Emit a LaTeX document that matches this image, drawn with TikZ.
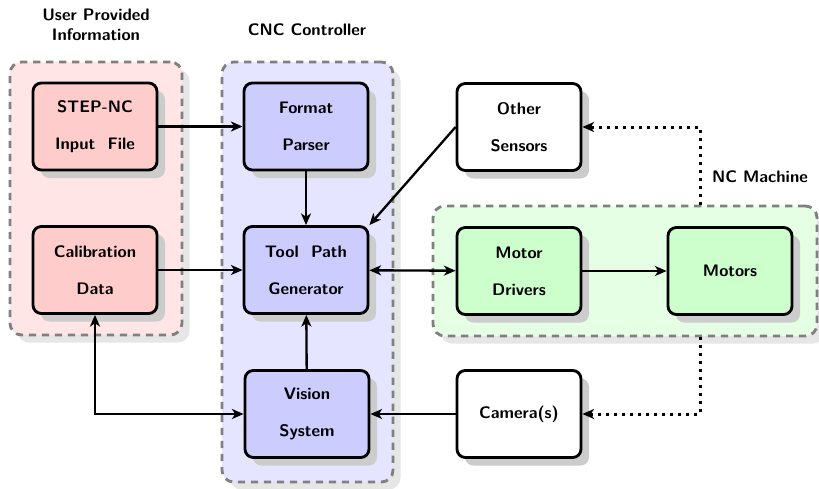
\documentclass[tikz,border=0pt]{standalone}
\usepackage{fontspec}
\usetikzlibrary{arrows.meta,shadows,positioning}

\definecolor{boxshadow}{HTML}{CCCCCC}
\definecolor{grpshadow}{HTML}{E6E6E6}
\definecolor{grpborder}{HTML}{808080}

\tikzset{
  every node/.style={font=\sffamily\bfseries},
  block/.style={draw=black, line width=1.7pt, rounded corners=5pt,
    minimum width=74.4pt, minimum height=52.2pt, align=center, inner sep=2pt,
    drop shadow={shadow xshift=4.8pt, shadow yshift=-4.8pt, fill=boxshadow, opacity=1}},
  userbox/.style={block, fill=red!20},
  cncbox/.style={block, fill=blue!20},
  ncbox/.style={block, fill=green!20},
  plainbox/.style={block, fill=white},
  group/.style={draw=grpborder, line width=1.7pt, dash pattern=on 4.4pt off 3.4pt,
    rounded corners=7pt, inner sep=0pt,
    drop shadow={shadow xshift=4.5pt, shadow yshift=-4.5pt, fill=grpshadow, opacity=1}},
  flow/.style={line width=1.4pt, -{Stealth[length=7pt,width=6pt,inset=2pt]}},
  twoway/.style={line width=1.4pt, {Stealth[length=7pt,width=6pt,inset=2pt]}-{Stealth[length=7pt,width=6pt,inset=2pt]}},
  sense/.style={line width=1.8pt, dash pattern=on 1.8pt off 3pt,
    -{Stealth[length=7pt,width=6pt,inset=2pt]}},
  heading/.style={align=center}
}

\begin{document}
\begin{tikzpicture}[x=0.6pt, y=-0.6pt]
  \useasboundingbox (0,0) rectangle (819,488);

  % group panels
  \node[group, fill=red!10, minimum width=103.2pt, minimum height=163.8pt] (upi) at (96,198.5) {};
  \node[group, fill=blue!10, minimum width=102.6pt, minimum height=252pt] (cnc) at (307.5,272) {};
  \node[group, fill=green!10, minimum width=230.4pt, minimum height=78pt] (ncm) at (625,271) {};

  % group titles
  \node[heading] (upiT) at (96,25) {User Provided\\Information};
  \node[heading] (cncT) at (307,30) {CNC Controller};
  \node[heading] (ncmT) at (760,177) {NC Machine};

  % user side
  \node[userbox] (step) at (95,126.5) {STEP-NC\\[10pt]Input~~File};
  \node[userbox] (cal) at (95,270) {Calibration\\[10pt]Data};

  % controller
  \node[cncbox] (fp) at (306,126.5) {Format\\[10pt]Parser};
  \node[cncbox] (tpg) at (306,270) {Tool~~Path\\[10pt]Generator};
  \node[cncbox] (vs) at (307,414) {Vision\\[10pt]System};

  % machine side
  \node[plainbox] (os) at (519,127) {Other\\[10pt]Sensors};
  \node[ncbox] (md) at (519,271) {Motor\\[10pt]Drivers};
  \node[ncbox] (mot) at (730,271) {Motors};
  \node[plainbox] (cam) at (519,414) {Camera(s)};

  % taps on the machine panel
  \coordinate (tapx) at (700,0);

  % connections
  \draw[flow] (step) -- (fp);
  \draw[flow] (fp) -- (tpg);
  \draw[flow] (cal) -- (tpg);
  \draw[flow] (os.west) -- (tpg.north east);
  \draw[twoway] (tpg) -- (md);
  \draw[flow] (md) -- (mot);
  \draw[flow] (vs) -- (tpg);
  \draw[flow] (cam) -- (vs);
  \draw[twoway] (cal.south) |- (vs.west);
  \draw[sense] (ncm.north -| tapx) |- (os.east);
  \draw[sense] (ncm.south -| tapx) |- (cam.east);
\end{tikzpicture}
\end{document}
